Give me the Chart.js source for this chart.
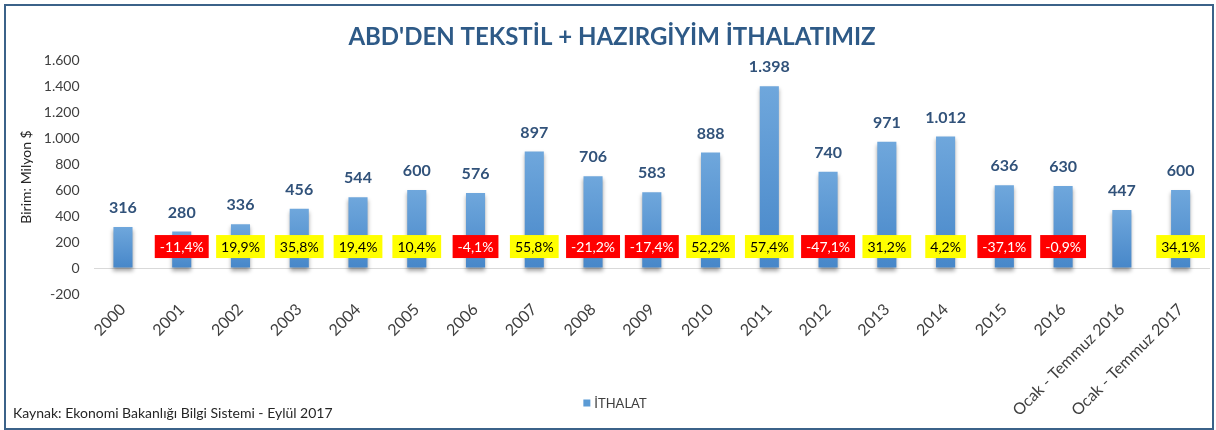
<!DOCTYPE html>
<html lang="tr">
<head>
<meta charset="utf-8">
<title>ABD'den Tekstil + Hazırgiyim İthalatımız</title>
<script src="https://cdn.jsdelivr.net/npm/chart.js@4.4.1/dist/chart.umd.min.js"></script>
<style>
  html, body { margin: 0; padding: 0; background: #fff; }
  #kutu { position: relative; width: 1216px; height: 430px; }
  #cerceve {
    position: absolute; left: 4px; top: 4px; width: 1206px; height: 422px;
    border: 2px solid #3B6289; pointer-events: none;
  }
  canvas { position: absolute; left: 0; top: 0; }
</style>
</head>
<body>
<div id="kutu">
  <canvas id="grafik" width="1216" height="430"></canvas>
  <div id="cerceve"></div>
</div>
<script>
// Veriler
const yillar = ['2000', '2001', '2002', '2003', '2004', '2005', '2006', '2007', '2008', '2009',
  '2010', '2011', '2012', '2013', '2014', '2015', '2016', 'Ocak - Temmuz 2016', 'Ocak - Temmuz 2017'];
const ithalat = [316, 280, 336, 456, 544, 600, 576, 897, 706, 583, 888, 1398, 740, 971, 1012, 636, 630, 447, 600];
// Bir önceki döneme göre değişim (%)
const degisim = [null, -11.4, 19.9, 35.8, 19.4, 10.4, -4.1, 55.8, -21.2, -17.4, 52.2, 57.4, -47.1, 31.2, 4.2, -37.1, -0.9, null, 34.1];
const eksenMin = -200;
const eksenMax = 1600;
const eksenAdim = 200;

const baslik = "ABD'DEN TEKSTİL + HAZIRGİYİM İTHALATIMIZ";
const kaynak = 'Kaynak: Ekonomi Bakanlığı Bilgi Sistemi - Eylül 2017';

// Sayı biçimleri (Türkçe)
function binlik(v) {
  return String(v).replace(/\B(?=(\d{3})+(?!\d))/g, '.');
}
function yuzde(v) {
  return v.toFixed(1).replace('.', ',') + '%';
}

// Çubuk gölgesi
const golge = {
  id: 'golge',
  beforeDatasetsDraw(chart) {
    const ctx = chart.ctx;
    ctx.save();
    ctx.shadowColor = 'rgba(0,0,0,0.35)';
    ctx.shadowBlur = 4;
    ctx.shadowOffsetY = 3;
  },
  afterDatasetsDraw(chart) {
    chart.ctx.restore();
  }
};

// Değer ve yüzde etiketleri
const etiketler = {
  id: 'etiketler',
  afterDatasetsDraw(chart) {
    const ctx = chart.ctx;
    const y = chart.scales.y;
    const cubuklar = chart.getDatasetMeta(0).data;
    ctx.save();
    ctx.textAlign = 'center';
    ctx.textBaseline = 'middle';
    cubuklar.forEach((cubuk, i) => {
      ctx.font = 'bold 16px Lato';
      ctx.fillStyle = '#31527A';
      ctx.fillText(binlik(ithalat[i]), cubuk.x, cubuk.y - 19);

      const d = degisim[i];
      if (d === null) return;
      const yazi = yuzde(d);
      ctx.font = '14px Lato';
      const w = ctx.measureText(yazi).width + 10;
      const yc = y.getPixelForValue(165);
      ctx.fillStyle = d < 0 ? '#FF0000' : '#FFFF00';
      ctx.fillRect(cubuk.x - w / 2, yc - 11.5, w, 23);
      ctx.fillStyle = d < 0 ? '#FFFFFF' : '#000000';
      ctx.fillText(yazi, cubuk.x, yc + 1);
    });
    ctx.restore();
  }
};

// Lejant ve kaynak notu (eksen etiketleriyle aynı satırda durdukları için elle çiziliyor)
const altYazilar = {
  id: 'altYazilar',
  afterDraw(chart) {
    const ctx = chart.ctx;
    const ds = chart.data.datasets[0];
    ctx.save();
    ctx.textBaseline = 'middle';
    ctx.textAlign = 'left';

    // lejant
    ctx.font = '13px Lato';
    const metin = ds.label;
    const genislik = 7 + 4 + ctx.measureText(metin).width;
    const x0 = 615 - genislik / 2;
    ctx.fillStyle = '#5B9BD5';
    ctx.fillRect(x0, 399.5, 7, 7);
    ctx.fillStyle = '#404040';
    ctx.fillText(metin, x0 + 11, 403.5);

    // kaynak
    ctx.font = '14px Lato';
    ctx.fillStyle = '#262626';
    ctx.fillText(kaynak, 13, 413);
    ctx.restore();
  }
};

function cubukRengi(c) {
  const chart = c.chart;
  const y = chart.scales.y;
  if (c.type !== 'data' || !chart.chartArea || !y) return '#5B9BD5';
  const ust = y.getPixelForValue(c.raw);
  const alt = y.getPixelForValue(0);
  if (!isFinite(ust) || !isFinite(alt) || ust === alt) return '#5B9BD5';
  const g = chart.ctx.createLinearGradient(0, ust, 0, alt);
  g.addColorStop(0, '#6FA7DC');
  g.addColorStop(1, '#4787C9');
  return g;
}

function setupChart() {
  const ctx = document.getElementById('grafik').getContext('2d');
  new Chart(ctx, {
    type: 'bar',
    data: {
      labels: yillar,
      datasets: [{
        label: 'İTHALAT',
        data: ithalat,
        backgroundColor: cubukRengi,
        borderWidth: 0,
        barPercentage: 0.325,
        categoryPercentage: 1
      }]
    },
    options: {
      responsive: false,
      animation: false,
      layout: { padding: { left: 14, right: 6, top: 0, bottom: 0 } },
      plugins: {
        title: {
          display: true,
          text: baslik,
          color: '#2E5A87',
          font: { family: 'Lato', size: 24, weight: 'bold' },
          padding: { top: 22.6, bottom: 8.6 }
        },
        legend: { display: false },
        tooltip: { enabled: false }
      },
      scales: {
        x: {
          grid: { display: false, drawTicks: false },
          border: { display: false },
          afterFit(scale) { scale.height = 136; },
          ticks: {
            autoSkip: false,
            maxRotation: 45,
            minRotation: 45,
            padding: 6,
            color: '#404040',
            font: { family: 'Lato', size: 16 }
          }
        },
        y: {
          min: eksenMin,
          max: eksenMax,
          afterFit(scale) { scale.width = 79.6; },
          grid: {
            drawTicks: false,
            color: (c) => (c.tick && c.tick.value === 0 ? '#D9D9D9' : 'rgba(0,0,0,0)'),
            lineWidth: 1
          },
          border: { display: false },
          ticks: {
            stepSize: eksenAdim,
            padding: 14,
            color: '#404040',
            font: { family: 'Lato', size: 14 },
            callback: (v) => binlik(v)
          },
          title: {
            display: true,
            text: 'Birim: Milyon $',
            color: '#262626',
            font: { family: 'Lato', size: 14 },
            padding: { top: 4, bottom: 0 }
          }
        }
      }
    },
    plugins: [golge, etiketler, altYazilar]
  });
}

document.addEventListener('DOMContentLoaded', setupChart);
</script>
</body>
</html>
